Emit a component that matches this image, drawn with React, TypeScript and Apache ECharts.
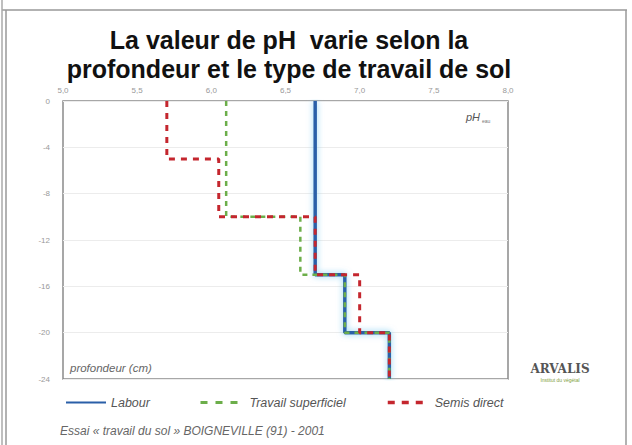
import React, { useEffect, useRef } from "react";
import * as echarts from "echarts";

const titleLines = ["La valeur de pH  varie selon la", "profondeur et le type de travail de sol"];
const seriesNames = ["Labour", "Travail superficiel", "Semis direct"];
// depth breakpoints (cm, negative downward) and pH value in each layer
const labourDepths = [0, -15, -20, -24];
const labourPH = [6.7, 6.9, 7.2];
const superficielDepths = [0, -10, -15, -20, -24];
const superficielPH = [6.1, 6.6, 6.9, 7.2];
const semisDepths = [0, -5, -10, -15, -20, -24];
const semisPH = [5.7, 6.05, 6.7, 7.0, 7.2];
const xMin = 5;
const xMax = 8;
const xStep = 0.5;
const yMin = -24;
const yMax = 0;
const yStep = 4;
const sourceText = "Essai « travail du sol » BOIGNEVILLE (91) - 2001";

function stepPoints(depths: number[], ph: number[]) {
  const pts: number[][] = [];
  for (let i = 0; i < ph.length; i++) {
    pts.push([ph[i], depths[i]]);
    pts.push([ph[i], depths[i + 1]]);
  }
  return pts;
}

export default function App() {
  const ref = useRef<HTMLDivElement>(null);
  useEffect(() => {
    if (!ref.current) return;
    const chart = echarts.init(ref.current, null, { renderer: "svg" });
    const legendText = { color: "#555", fontStyle: "italic", fontSize: 12.5, fontFamily: "Liberation Sans, Arial, sans-serif" };
    const legendCommon = { itemHeight: 10, textStyle: legendText, itemStyle: { opacity: 0 }, top: 391 };
    chart.setOption({
      animation: false,
      backgroundColor: "#fff",
      title: {
        text: titleLines.join("\n"),
        left: 284,
        top: 20,
        textAlign: "center",
        textStyle: { fontSize: 25, fontWeight: "bold", color: "#111", lineHeight: 29, fontFamily: "Liberation Sans, Arial, sans-serif" },
      },
      grid: {
        left: 63, top: 101, width: 445, height: 278,
        show: true, borderColor: "#8a8a8a", borderWidth: 1.5, backgroundColor: "transparent",
      },
      xAxis: {
        type: "value", position: "top", min: xMin, max: xMax, interval: xStep,
        axisLine: { show: false }, axisTick: { show: false }, splitLine: { show: false },
        axisLabel: {
          color: "#999", fontSize: 8, margin: 7,
          formatter: (v: number) => v.toFixed(1).replace(".", ","),
        },
      },
      yAxis: {
        type: "value", min: yMin, max: yMax, interval: yStep,
        axisLine: { show: false }, axisTick: { show: false },
        splitLine: { show: true, lineStyle: { color: "#ececec", width: 1 } },
        axisLabel: { color: "#999", fontSize: 8, margin: 13 },
      },
      legend: [
        { ...legendCommon, data: [seriesNames[0]], left: 60, itemWidth: 40 },
        { ...legendCommon, data: [seriesNames[1]], left: 194, itemWidth: 44, lineStyle: { type: [7, 8], width: 3 } },
        { ...legendCommon, data: [seriesNames[2]], left: 381, itemWidth: 42, lineStyle: { type: [7, 7], width: 3.5 } },
      ],
      series: [
        {
          name: seriesNames[0], type: "line", showSymbol: false, symbol: "none",
          data: stepPoints(labourDepths, labourPH),
          lineStyle: { color: "#2a5fa8", width: 3.5, shadowColor: "rgba(110,200,240,0.8)", shadowBlur: 6 },
          itemStyle: { color: "#2a5fa8" },
          z: 2,
        },
        {
          name: seriesNames[1], type: "line", showSymbol: false, symbol: "none",
          data: stepPoints(superficielDepths, superficielPH),
          lineStyle: { color: "#6cae4a", width: 2.5, type: [5, 5] },
          itemStyle: { color: "#6cae4a" },
          z: 3,
        },
        {
          name: seriesNames[2], type: "line", showSymbol: false, symbol: "none",
          data: stepPoints(semisDepths, semisPH),
          lineStyle: { color: "#c4262e", width: 3, type: [6, 6] },
          itemStyle: { color: "#c4262e" },
          z: 4,
        },
      ],
      graphic: [
        { type: "line", shape: { x1: 2, y1: 10, x2: 627, y2: 10 }, style: { stroke: "#999", lineWidth: 1.5 } },
        { type: "line", shape: { x1: 2, y1: 0, x2: 2, y2: 445 }, style: { stroke: "#aaa", lineWidth: 1.5 } },
        { type: "line", shape: { x1: 6, y1: 10, x2: 6, y2: 445 }, style: { stroke: "#999", lineWidth: 1.5 } },
        { type: "line", shape: { x1: 626, y1: 10, x2: 626, y2: 445 }, style: { stroke: "#999", lineWidth: 1.5 } },
        {
          type: "text", x: 466, y: 110,
          style: {
            text: "{a|pH}{b|eau}",
            rich: {
              a: { fontSize: 11, fontStyle: "italic", fill: "#555", fontFamily: "Liberation Sans, Arial, sans-serif" },
              b: { fontSize: 5, fill: "#777", padding: [8, 0, 0, 2] },
            },
          },
        },
        {
          type: "text", x: 70, y: 362,
          style: { text: "profondeur (cm)", fontSize: 11.5, fontStyle: "italic", fill: "#666", fontFamily: "Liberation Sans, Arial, sans-serif" },
        },
        {
          type: "text", x: 60, y: 425,
          style: { text: sourceText, fontSize: 12, fontStyle: "italic", fill: "#666", fontFamily: "Liberation Sans Narrow, Liberation Sans, Arial, sans-serif" },
        },
        {
          type: "text", x: 560, y: 369,
          style: { text: "ARVALIS", fontSize: 12, fontWeight: "bold", fill: "#555", align: "center", verticalAlign: "middle", fontFamily: "DejaVu Serif, Liberation Serif, serif" },
        },
        {
          type: "text", x: 560, y: 380,
          style: { text: "Institut du végétal", fontSize: 5, fill: "#7fa040", align: "center", verticalAlign: "middle", fontFamily: "Liberation Sans, Arial, sans-serif" },
        },
      ],
    });
    return () => chart.dispose();
  }, []);
  return <div ref={ref} style={{ width: 632, height: 445, position: "absolute", left: 0, top: 0 }} />;
}
